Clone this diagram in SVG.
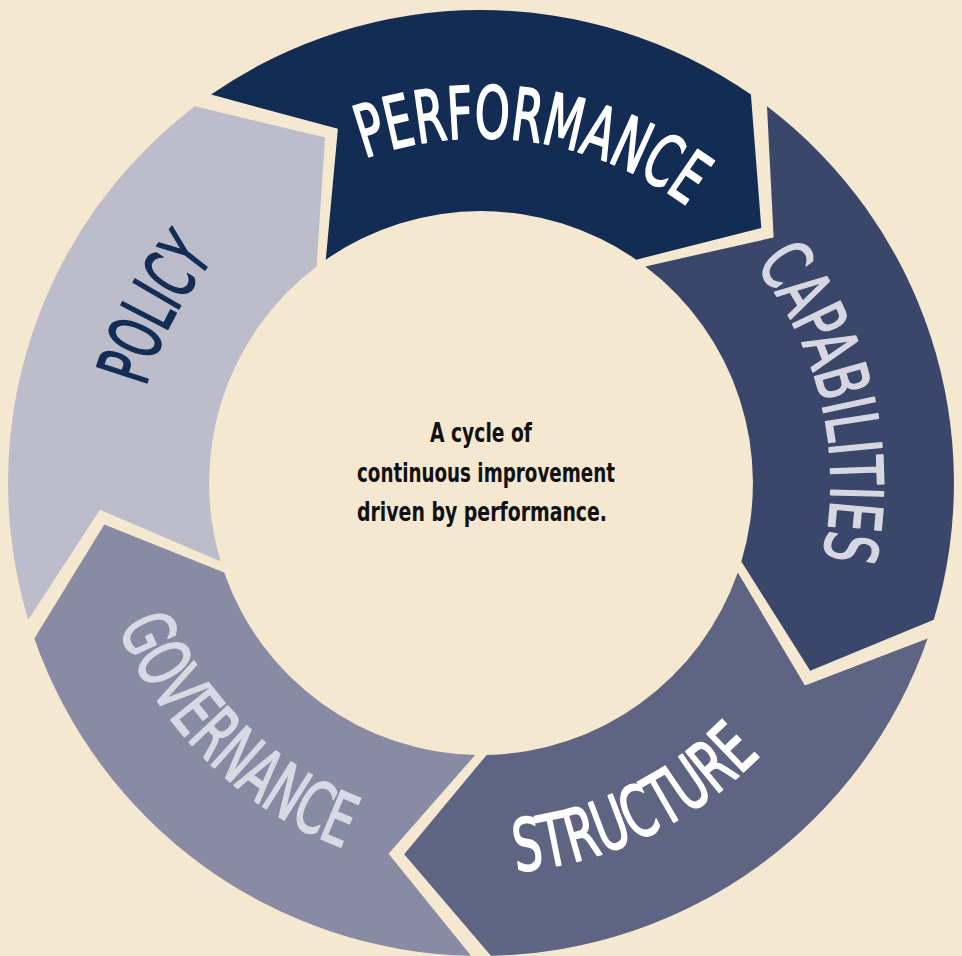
<svg xmlns="http://www.w3.org/2000/svg" xmlns:xlink="http://www.w3.org/1999/xlink" width="962" height="956" viewBox="0 0 962 956">
  <style>
    .lbl { font-family: "Liberation Sans Narrow", "DejaVu Sans Condensed", "Liberation Sans", sans-serif; font-weight: normal; font-size: 72px; stroke-width: 1.8px; stroke-linejoin: round; }
    .center { font-family: "Liberation Sans Narrow", "DejaVu Sans Condensed", "Liberation Sans", sans-serif; font-weight: bold; font-size: 26px; fill: #111111; text-anchor: middle; }
  </style>
  <defs>
    <path id="seg" d="M211.1,94.6 A473,473 0 0 1 750.9,94.6 L761.3,227.9 L636.2,259.7 A272,272 0 0 0 325.8,259.7 L337.9,128.8 Z"/>
    <path id="tp-performance" d="M177.8,318.4 A345,345 0 0 1 819.1,414.2"/>
    <path id="tp-capabilities" d="M523.7,135.6 A350,350 0 0 1 671.6,776.5"/>
    <path id="tp-structure" d="M207.6,761.2 A390,390 0 0 0 869.2,445.6"/>
    <path id="tp-governance" d="M126.1,321.3 A390,390 0 0 0 648.9,835.0"/>
    <path id="tp-policy" d="M221.7,716.5 A349,349 0 0 1 529.6,137.4"/>
  </defs>
  <rect x="0" y="0" width="962" height="956" fill="#F4E8D1"/>

  <g id="performance">
    <use xlink:href="#seg" href="#seg" fill="#122C54"/>
    <text class="lbl" fill="#FFFFFF" stroke="#FFFFFF"><textPath xlink:href="#tp-performance" href="#tp-performance" startOffset="50%" text-anchor="middle" textLength="340" lengthAdjust="spacingAndGlyphs">PERFORMANCE</textPath></text>
  </g>
  <g id="capabilities">
    <use xlink:href="#seg" href="#seg" fill="#3A476A" transform="rotate(72 481 483)"/>
    <text class="lbl" fill="#D6D7E2" stroke="#D6D7E2"><textPath xlink:href="#tp-capabilities" href="#tp-capabilities" startOffset="50%" text-anchor="middle" textLength="311" lengthAdjust="spacingAndGlyphs">CAPABILITIES</textPath></text>
  </g>
  <g id="structure">
    <use xlink:href="#seg" href="#seg" fill="#5F6482" transform="rotate(144 481 483)"/>
    <text class="lbl" fill="#FFFFFF" stroke="#FFFFFF"><textPath xlink:href="#tp-structure" href="#tp-structure" startOffset="50%" text-anchor="middle" textLength="277" lengthAdjust="spacingAndGlyphs">STRUCTURE</textPath></text>
  </g>
  <g id="governance">
    <use xlink:href="#seg" href="#seg" fill="#888BA3" transform="rotate(216 481 483)"/>
    <text class="lbl" fill="#D8D9E4" stroke="#D8D9E4"><textPath xlink:href="#tp-governance" href="#tp-governance" startOffset="50%" text-anchor="middle" textLength="325" lengthAdjust="spacingAndGlyphs">GOVERNANCE</textPath></text>
  </g>
  <g id="policy">
    <use xlink:href="#seg" href="#seg" fill="#BCBCCB" transform="rotate(288 481 483)"/>
    <text class="lbl" fill="#132D55" stroke="#132D55"><textPath xlink:href="#tp-policy" href="#tp-policy" startOffset="50%" text-anchor="middle" textLength="146" lengthAdjust="spacingAndGlyphs">POLICY</textPath></text>
  </g>

  <g id="center-text">
    <text class="center" x="481" y="442" textLength="102" lengthAdjust="spacingAndGlyphs">A cycle of</text>
    <text class="center" x="486" y="482" textLength="258" lengthAdjust="spacingAndGlyphs">continuous improvement</text>
    <text class="center" x="482" y="521" textLength="250" lengthAdjust="spacingAndGlyphs">driven by performance.</text>
  </g>

  <g id="connectors"></g>
</svg>
